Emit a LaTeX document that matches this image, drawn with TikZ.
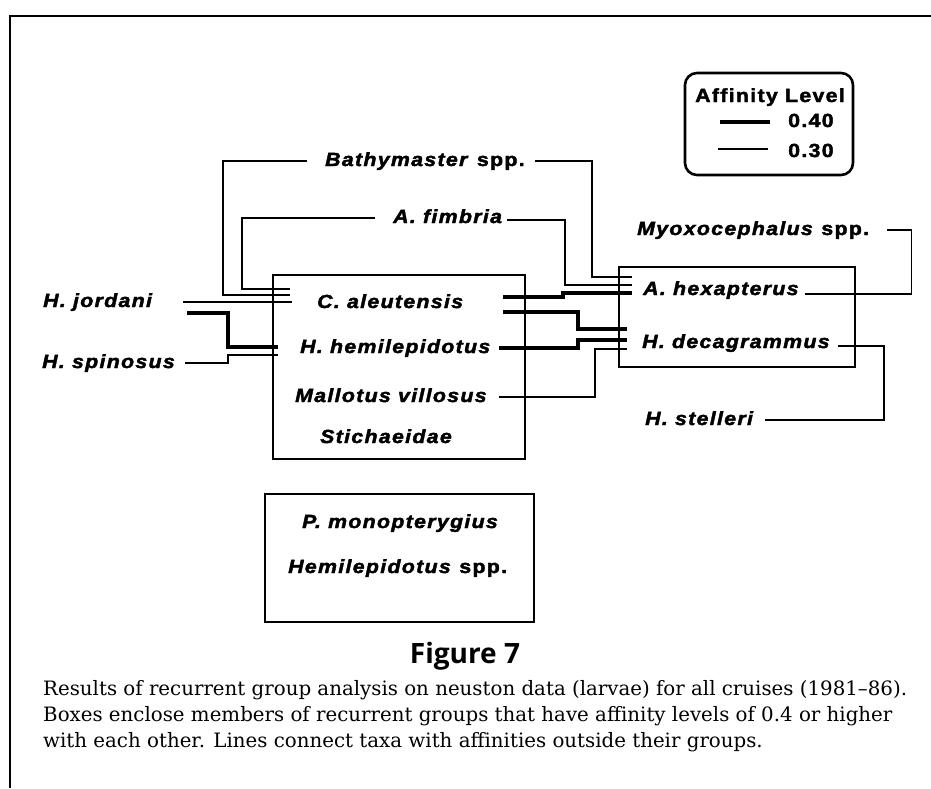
\documentclass[tikz,border=0pt]{standalone}
\usepackage{fontspec}
\setmainfont{DejaVu Serif}
\newfontfamily\taxfont[FakeStretch=1.12,LetterSpace=7,FakeBold=2.2]{Liberation Sans}
\newfontfamily\figfont{Open Sans}

\tikzset{
  taxon/.style={anchor=west, inner sep=0pt, text height=10pt, text depth=0pt,
    font={\taxfont\bfseries\itshape\fontsize{19}{22}\selectfont}},
  legtext/.style={taxon, font={\taxfont\bfseries\fontsize{19}{22}\selectfont}},
  grp/.style={draw, line width=2.6pt},
  hi/.style={line width=3.2pt},
  lo/.style={line width=1.6pt},
  capline/.style={anchor=base west, inner sep=0pt, font=\fontsize{19.8}{26}\selectfont},
}

\begin{document}
\begin{tikzpicture}[x=1pt,y=-1pt]
\useasboundingbox (0,0) rectangle (931,788);
\draw[line width=2.4pt] (931,16) -- (10,16) -- (10,788);

% recurrent groups
\draw[grp] (273,275) rectangle (525,459);
\draw[grp] (619,267) rectangle (855,367);
\draw[grp] (265,494) rectangle (534,622);

\foreach \nm/\x/\y/\txt in {
  bath/325/161/{Bathymaster \textup{spp.}},
  afim/393/218/{A. fimbria},
  myox/637/230/{Myoxocephalus \textup{spp.}},
  hjor/43/302/{H. jordani},
  hspi/42/363/{H. spinosus},
  cale/317/303/{C. aleutensis},
  hhem/300/348/{H. hemilepidotus},
  mvil/295/397/{Mallotus villosus},
  stic/320/438/{Stichaeidae},
  ahex/643/290/{A. hexapterus},
  hdec/642/343/{H. decagrammus},
  hste/645/420/{H. stelleri},
  pmon/302/523/{P. monopterygius},
  hspp/288/568/{Hemilepidotus \textup{spp.}}
} \node[taxon] (\nm) at (\x,\y) {\txt};

% ends of the lines at the boxes
\coordinate (cl1) at (290,289);
\coordinate (cl2) at (290,295);
\coordinate (cl3) at (292,302);
\coordinate (hl1) at (278,347);
\coordinate (hl2) at (278,355);
\coordinate (xr1) at (632,277);
\coordinate (xr2) at (632,285);
\coordinate (xr3) at (632,293);
\coordinate (dr1) at (627,329);
\coordinate (dr2) at (627,340);
\coordinate (dr3) at (627,349);

\draw[lo] ([xshift=-18pt]bath.west) -| (223,295) -- (cl2);
\draw[lo] (bath.east) ++(10,0) -| (592,277) -- (xr1);
\draw[lo] ([xshift=-18pt]afim.west) -| (242,289) -- (cl1);
\draw[lo] (afim.east) ++(5,2) -| (565,285) -- (xr2);
\draw[lo] (hjor.east) ++(31,0) -- (cl3);
\draw[hi] (hjor.east) ++(35,11) -| (228,347) -- (hl1);
\draw[lo] (hspi.east) ++(10,0) -| (228,355) -- (hl2);
\draw[hi] (cale.east) ++(40,-6) -- (563,297) |- (xr3);
\draw[hi] (cale.east) ++(40,9) -| (578,329) -- (dr1);
\draw[hi] (hhem.east) ++(9,0) -| (578,340) -- (dr2);
\draw[lo] (mvil.east) ++(12,0) -| (595,349) -- (dr3);
\draw[lo] (ahex.east) ++(6,4) -| ([xshift=42pt]myox.east) -- ([xshift=18pt]myox.east);
\draw[lo] (hdec.east) ++(8,3) -| ([xshift=131pt]hste.east) -- ([xshift=12pt]hste.east);

% legend
\draw[grp, rounded corners=12pt] (685,73) rectangle (853,175);
\node[legtext] (aff) at (695,97) {Affinity Level};
\node[legtext] (l40) at (788,122) {0.40};
\node[legtext] (l30) at (788,152) {0.30};
\draw[hi] ([xshift=-18pt]l40.west) -- ++(-50,0);
\draw[lo] (l30.west) ++(-20,-3) -- ++(-50,0);

% caption
\node[anchor=base, font=\figfont\bfseries\fontsize{28}{32}\selectfont] (fig) at (465,663) {Figure 7};
\node[capline] (cap1) at (43,695) {Results of recurrent group analysis on neuston data (larvae) for all cruises (1981--86).};
\node[capline] (cap2) at (43,721) {Boxes enclose members of recurrent groups that have affinity levels of 0.4 or higher};
\node[capline] (cap3) at (43,747) {with each other. Lines connect taxa with affinities outside their groups.};
\end{tikzpicture}
\end{document}
